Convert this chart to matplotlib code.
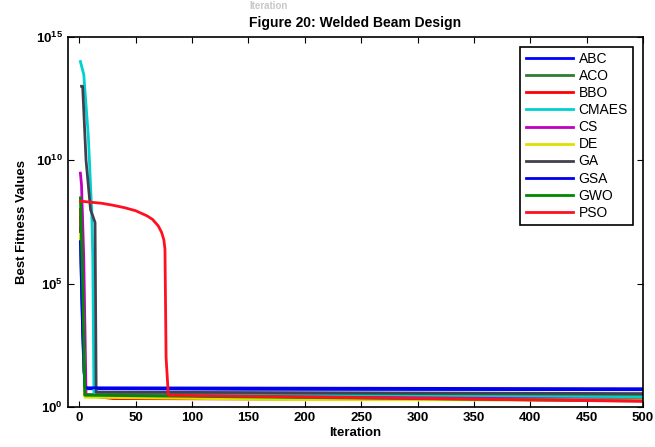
import numpy as np
import matplotlib.pyplot as plt
from matplotlib.ticker import FixedLocator, FuncFormatter

# Convergence curves (iteration, best fitness) for each algorithm
abc_it = [1, 2, 4, 6, 150, 500]
abc_val = [2e7, 1e5, 30, 5.5, 5.2, 5.0]

aco_it = [1, 3, 5, 500]
aco_val = [5e7, 1e4, 3.2, 3.0]

bbo_it = [1, 3, 5, 30, 500]
bbo_val = [1e8, 1e5, 3.0, 2.2, 1.9]

cmaes_it = [1, 4, 8, 11, 12, 13, 500]
cmaes_val = [1e14, 3e13, 1e11, 1e8, 1e6, 3.0, 2.5]

cs_it = [1, 2, 4, 6, 500]
cs_val = [3e9, 1e9, 1e6, 3.0, 2.0]

de_it = [1, 3, 5, 190, 500]
de_val = [1e7, 1e4, 2.5, 2.0, 1.9]

ga_it = [2, 3, 6, 10, 14, 15, 500]
ga_val = [1e13, 1e13, 1e10, 1e8, 3e7, 4.0, 3.5]

gsa_it = [1, 3, 5, 500]
gsa_val = [5e6, 1e3, 6.0, 5.5]

gwo_it = [1, 3, 5, 500]
gwo_val = [3e8, 1e5, 3.0, 1.75]

pso_it = [1, 10, 20, 30, 40, 50, 60, 65, 70, 73, 75, 76, 77, 79, 500]
pso_val = [2.2e8, 2.0e8, 1.8e8, 1.5e8, 1.2e8, 9e7, 5.6e7, 4e7, 2.2e7,
           1.2e7, 6e6, 2.5e6, 1e2, 3.0, 1.7]

names = ['ABC', 'ACO', 'BBO', 'CMAES', 'CS', 'DE', 'GA', 'GSA', 'GWO', 'PSO']
series = [(abc_it, abc_val), (aco_it, aco_val), (bbo_it, bbo_val),
          (cmaes_it, cmaes_val), (cs_it, cs_val), (de_it, de_val),
          (ga_it, ga_val), (gsa_it, gsa_val), (gwo_it, gwo_val),
          (pso_it, pso_val)]
colors = ['#0000ff', '#2e7d32', '#ff0000', '#00d0d0', '#c000c0', '#e0e000',
          '#404050', '#0000ee', '#008a00', '#ff1020']

plt.rcParams['font.family'] = ['Liberation Sans', 'DejaVu Sans']
plt.rcParams['mathtext.default'] = 'regular'

fig = plt.figure(figsize=(6.55, 4.47), dpi=100)
ax = fig.add_axes([0.1038, 0.0895, 0.878, 0.828])

for (it, val), c, n in zip(series, colors, names):
    ax.semilogy(it, val, color=c, linewidth=2, label=n)

ax.set_xlim(-10, 500)
ax.set_ylim(1, 1e15)
ax.set_xticks(np.arange(0, 501, 50))
ax.yaxis.set_major_locator(FixedLocator([1, 1e5, 1e10, 1e15]))
ax.yaxis.set_minor_locator(FixedLocator([]))
ax.yaxis.set_major_formatter(FuncFormatter(lambda v, p: r'$10^{%d}$' % round(np.log10(v))))
ax.tick_params(direction='in', top=True, right=True, labelsize=9.5, length=4)
for lab in ax.get_xticklabels() + ax.get_yticklabels():
    lab.set_fontweight('bold')
for s in ax.spines.values():
    s.set_linewidth(1.2)

ax.set_xlabel('Iteration', fontsize=9.5, fontweight='bold', labelpad=2)
ax.set_ylabel('Best Fitness Values', fontsize=9.5, fontweight='bold', labelpad=6)
ax.set_title('Figure 20: Welded Beam Design', fontsize=10, fontweight='bold', pad=7)
fig.text(0.41, 0.998, 'Iteration', fontsize=7, fontweight='bold', color='#c8c8c8',
         ha='center', va='top')

leg = ax.legend(loc='upper right', fontsize=10, frameon=True, fancybox=False,
                edgecolor='black', framealpha=1, handlelength=3.4,
                labelspacing=0.22, borderaxespad=0.7, handletextpad=0.4)
leg.get_frame().set_linewidth(1.2)

fig.savefig('out.png', dpi=100)
